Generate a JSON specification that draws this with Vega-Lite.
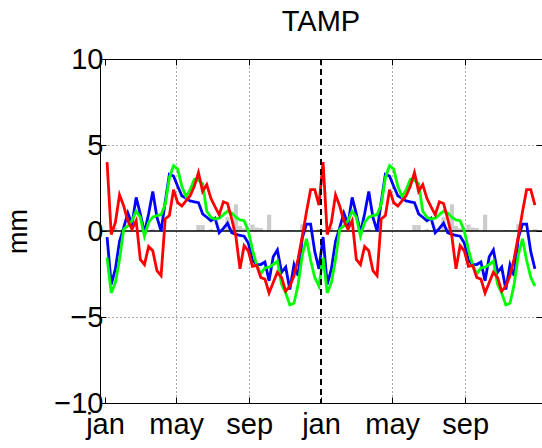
{
 "$schema": "https://vega.github.io/schema/vega-lite/v6.json",
 "autosize": "none",
 "width": 442,
 "height": 344,
 "padding": {"left": 100, "top": 59, "right": 0, "bottom": 45},
 "background": "white",
 "title": {"text": "TAMP", "fontSize": 29, "font": "Liberation Sans", "fontWeight": "normal", "color": "black", "offset": 8, "anchor": "middle"},
 "config": {
  "view": {"stroke": "black", "strokeWidth": 1},
  "axis": {"labelFont": "Liberation Sans", "labelFontSize": 29, "labelColor": "black", "titleFont": "Liberation Sans", "titleFontSize": 27, "titleFontWeight": "normal", "titleColor": "black", "domainColor": "black", "tickColor": "black", "tickSize": -6, "gridColor": "#555555", "gridDash": [1, 3], "gridOpacity": 1}
 },
 "resolve": {"axis": {"x": "independent", "y": "independent"}},
 "datasets": {"weeks": [
  {"w":0.5,"r":4.0,"b":-0.35,"g":-1.55,"h":0},
  {"w":1.5,"r":-0.2,"b":-3.1,"g":-3.6,"h":0},
  {"w":2.5,"r":0.5,"b":-2.2,"g":-3.0,"h":0.2},
  {"w":3.5,"r":2.1,"b":-0.6,"g":-1.65,"h":0},
  {"w":4.5,"r":1.45,"b":0.2,"g":0.1,"h":0},
  {"w":5.5,"r":0.6,"b":1.05,"g":0.3,"h":0},
  {"w":6.5,"r":0.1,"b":0.4,"g":0.6,"h":0},
  {"w":7.5,"r":0.6,"b":1.95,"g":1.15,"h":0},
  {"w":8.5,"r":-1.65,"b":1.0,"g":0.8,"h":0},
  {"w":9.5,"r":-1.95,"b":-0.1,"g":-0.3,"h":0},
  {"w":10.5,"r":-0.9,"b":1.0,"g":0.5,"h":0},
  {"w":11.5,"r":-1.15,"b":2.3,"g":0.8,"h":0.1},
  {"w":12.5,"r":-2.3,"b":0.8,"g":0.9,"h":0},
  {"w":13.5,"r":-2.6,"b":0.0,"g":0.95,"h":0},
  {"w":14.5,"r":0.7,"b":1.7,"g":1.55,"h":0},
  {"w":15.5,"r":0.9,"b":3.3,"g":3.1,"h":0},
  {"w":16.5,"r":2.4,"b":3.2,"g":3.8,"h":0},
  {"w":17.5,"r":1.65,"b":2.6,"g":3.6,"h":0},
  {"w":18.5,"r":1.45,"b":2.05,"g":2.6,"h":0},
  {"w":19.5,"r":1.75,"b":1.9,"g":2.0,"h":0},
  {"w":20.5,"r":2.05,"b":1.75,"g":2.4,"h":0},
  {"w":21.5,"r":2.6,"b":1.7,"g":3.0,"h":0},
  {"w":22.5,"r":3.4,"b":1.65,"g":2.95,"h":0.35},
  {"w":23.5,"r":2.3,"b":1.0,"g":2.75,"h":0.35},
  {"w":24.5,"r":2.7,"b":0.8,"g":1.15,"h":0},
  {"w":25.5,"r":1.9,"b":0.6,"g":0.8,"h":0.1},
  {"w":26.5,"r":1.4,"b":0.75,"g":0.7,"h":0},
  {"w":27.5,"r":0.95,"b":-0.1,"g":0.75,"h":0},
  {"w":28.5,"r":1.7,"b":0.15,"g":0.95,"h":0},
  {"w":29.5,"r":1.6,"b":0.45,"g":1.15,"h":0.8},
  {"w":30.5,"r":0.7,"b":-0.1,"g":1.05,"h":0.2},
  {"w":31.5,"r":-0.3,"b":-0.2,"g":0.8,"h":1.55},
  {"w":32.5,"r":-2.2,"b":-0.25,"g":0.65,"h":0.3},
  {"w":33.5,"r":-0.85,"b":-0.3,"g":0.6,"h":0.15},
  {"w":34.5,"r":-1.15,"b":-0.7,"g":0.0,"h":0.25},
  {"w":35.5,"r":-2.05,"b":-1.7,"g":-1.1,"h":0.37},
  {"w":36.5,"r":-2.0,"b":-1.95,"g":-1.95,"h":0.2},
  {"w":37.5,"r":-2.7,"b":-1.95,"g":-2.5,"h":0.17},
  {"w":38.5,"r":-2.8,"b":-1.8,"g":-2.15,"h":0},
  {"w":39.5,"r":-3.6,"b":-2.9,"g":-2.1,"h":0.95},
  {"w":40.5,"r":-3.0,"b":-1.5,"g":-1.95,"h":0},
  {"w":41.5,"r":-2.4,"b":-1.1,"g":-1.75,"h":0},
  {"w":42.5,"r":-2.7,"b":-2.4,"g":-3.1,"h":0},
  {"w":43.5,"r":-3.5,"b":-2.1,"g":-3.6,"h":0},
  {"w":44.5,"r":-3.2,"b":-3.4,"g":-4.3,"h":0.06},
  {"w":45.5,"r":-2.6,"b":-1.95,"g":-4.2,"h":0},
  {"w":46.5,"r":-1.6,"b":-2.6,"g":-3.1,"h":0},
  {"w":47.5,"r":-0.3,"b":-0.4,"g":-1.4,"h":0.4},
  {"w":48.5,"r":1.1,"b":0.4,"g":-0.45,"h":0},
  {"w":49.5,"r":2.4,"b":0.4,"g":-1.7,"h":0},
  {"w":50.5,"r":2.4,"b":-1.2,"g":-2.7,"h":0},
  {"w":51.5,"r":1.5,"b":-2.2,"g":-3.2,"h":0.1},
  {"w":52.5,"r":4.0,"b":-0.35,"g":-1.55,"h":0},
  {"w":53.5,"r":-0.2,"b":-3.1,"g":-3.6,"h":0},
  {"w":54.5,"r":0.5,"b":-2.2,"g":-3.0,"h":0.2},
  {"w":55.5,"r":2.1,"b":-0.6,"g":-1.65,"h":0},
  {"w":56.5,"r":1.45,"b":0.2,"g":0.1,"h":0},
  {"w":57.5,"r":0.6,"b":1.05,"g":0.3,"h":0},
  {"w":58.5,"r":0.1,"b":0.4,"g":0.6,"h":0},
  {"w":59.5,"r":0.6,"b":1.95,"g":1.15,"h":0},
  {"w":60.5,"r":-1.65,"b":1.0,"g":0.8,"h":0},
  {"w":61.5,"r":-1.95,"b":-0.1,"g":-0.3,"h":0},
  {"w":62.5,"r":-0.9,"b":1.0,"g":0.5,"h":0},
  {"w":63.5,"r":-1.15,"b":2.3,"g":0.8,"h":0.1},
  {"w":64.5,"r":-2.3,"b":0.8,"g":0.9,"h":0},
  {"w":65.5,"r":-2.6,"b":0.0,"g":0.95,"h":0},
  {"w":66.5,"r":0.7,"b":1.7,"g":1.55,"h":0},
  {"w":67.5,"r":0.9,"b":3.3,"g":3.1,"h":0},
  {"w":68.5,"r":2.4,"b":3.2,"g":3.8,"h":0},
  {"w":69.5,"r":1.65,"b":2.6,"g":3.6,"h":0},
  {"w":70.5,"r":1.45,"b":2.05,"g":2.6,"h":0},
  {"w":71.5,"r":1.75,"b":1.9,"g":2.0,"h":0},
  {"w":72.5,"r":2.05,"b":1.75,"g":2.4,"h":0},
  {"w":73.5,"r":2.6,"b":1.7,"g":3.0,"h":0},
  {"w":74.5,"r":3.4,"b":1.65,"g":2.95,"h":0.35},
  {"w":75.5,"r":2.3,"b":1.0,"g":2.75,"h":0.35},
  {"w":76.5,"r":2.7,"b":0.8,"g":1.15,"h":0},
  {"w":77.5,"r":1.9,"b":0.6,"g":0.8,"h":0.1},
  {"w":78.5,"r":1.4,"b":0.75,"g":0.7,"h":0},
  {"w":79.5,"r":0.95,"b":-0.1,"g":0.75,"h":0},
  {"w":80.5,"r":1.7,"b":0.15,"g":0.95,"h":0},
  {"w":81.5,"r":1.6,"b":0.45,"g":1.15,"h":0.8},
  {"w":82.5,"r":0.7,"b":-0.1,"g":1.05,"h":0.2},
  {"w":83.5,"r":-0.3,"b":-0.2,"g":0.8,"h":1.55},
  {"w":84.5,"r":-2.2,"b":-0.25,"g":0.65,"h":0.3},
  {"w":85.5,"r":-0.85,"b":-0.3,"g":0.6,"h":0.15},
  {"w":86.5,"r":-1.15,"b":-0.7,"g":0.0,"h":0.25},
  {"w":87.5,"r":-2.05,"b":-1.7,"g":-1.1,"h":0.37},
  {"w":88.5,"r":-2.0,"b":-1.95,"g":-1.95,"h":0.2},
  {"w":89.5,"r":-2.7,"b":-1.95,"g":-2.5,"h":0.17},
  {"w":90.5,"r":-2.8,"b":-1.8,"g":-2.15,"h":0},
  {"w":91.5,"r":-3.6,"b":-2.9,"g":-2.1,"h":0.95},
  {"w":92.5,"r":-3.0,"b":-1.5,"g":-1.95,"h":0},
  {"w":93.5,"r":-2.4,"b":-1.1,"g":-1.75,"h":0},
  {"w":94.5,"r":-2.7,"b":-2.4,"g":-3.1,"h":0},
  {"w":95.5,"r":-3.5,"b":-2.1,"g":-3.6,"h":0},
  {"w":96.5,"r":-3.2,"b":-3.4,"g":-4.3,"h":0.06},
  {"w":97.5,"r":-2.6,"b":-1.95,"g":-4.2,"h":0},
  {"w":98.5,"r":-1.6,"b":-2.6,"g":-3.1,"h":0},
  {"w":99.5,"r":-0.3,"b":-0.4,"g":-1.4,"h":0.4},
  {"w":100.5,"r":1.1,"b":0.4,"g":-0.45,"h":0},
  {"w":101.5,"r":2.4,"b":0.4,"g":-1.7,"h":0},
  {"w":102.5,"r":2.4,"b":-1.2,"g":-2.7,"h":0},
  {"w":103.5,"r":1.5,"b":-2.2,"g":-3.2,"h":0.1}
 ]},
 "layer": [
  {"data": {"name": "weeks"},
   "mark": {"type": "bar", "color": "#cccccc", "width": 4.25},
   "encoding": {
    "x": {"field": "w", "type": "quantitative", "scale": {"domain": [0, 104], "nice": false, "zero": false},
     "axis": {"title": null, "values": [0, 17.14, 34.71, 52, 69.14, 86.71], "labelExpr": "datum.value % 52 == 0 ? 'jan' : (datum.value % 52 < 20 ? 'may' : 'sep')", "labelPadding": 13, "labelFlush": false, "labelOverlap": false, "grid": true,
      "gridOpacity": {"condition": {"test": "datum.value % 52 == 0", "value": 0}, "value": 1}}},
    "y": {"field": "h", "type": "quantitative", "scale": {"domain": [-10, 10], "nice": false},
     "axis": {"title": "mm", "values": [-10, -5, 0, 5, 10], "labelPadding": 3, "titlePadding": 21, "grid": true,
      "gridOpacity": {"condition": {"test": "abs(datum.value) == 10 || datum.value == 0", "value": 0}, "value": 1}}}}},
  {"data": {"values": [{}]}, "mark": {"type": "rule", "color": "black", "strokeWidth": 1.5}, "encoding": {"y": {"datum": 0, "axis": null}}},
  {"data": {"name": "weeks"}, "mark": {"type": "line", "color": "#0000ff", "strokeWidth": 2.8}, "encoding": {"x": {"field": "w", "type": "quantitative", "axis": null}, "y": {"field": "b", "type": "quantitative", "axis": null}}},
  {"data": {"name": "weeks"}, "mark": {"type": "line", "color": "#00ff00", "strokeWidth": 2.8}, "encoding": {"x": {"field": "w", "type": "quantitative", "axis": null}, "y": {"field": "g", "type": "quantitative", "axis": null}}},
  {"data": {"name": "weeks"}, "mark": {"type": "line", "color": "#ff0000", "strokeWidth": 2.8},
   "encoding": {
    "x": {"field": "w", "type": "quantitative", "axis": {"orient": "top", "title": null, "values": [0, 17.14, 34.71, 52, 69.14, 86.71], "labels": false, "domain": false, "grid": false}},
    "y": {"field": "r", "type": "quantitative", "axis": {"orient": "right", "title": null, "values": [-10, -5, 0, 5, 10], "labels": false, "domain": false, "grid": false}}}},
  {"data": {"values": [{}]}, "mark": {"type": "rule", "color": "black", "strokeWidth": 2, "strokeDash": [6, 4]}, "encoding": {"x": {"datum": 52, "axis": null}}}
 ]
}
